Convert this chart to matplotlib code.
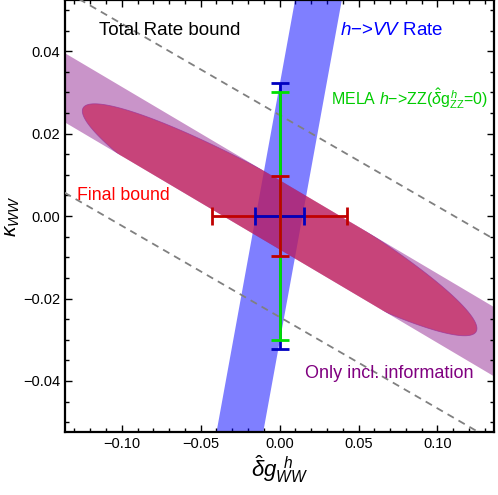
import numpy as np
import matplotlib
matplotlib.use("Agg")
import matplotlib.pyplot as plt
from matplotlib.ticker import MultipleLocator

plt.rcParams['font.family'] = ['Liberation Sans', 'DejaVu Sans']
plt.rcParams['mathtext.fontset'] = 'custom'
plt.rcParams['mathtext.rm'] = 'Liberation Sans'
plt.rcParams['mathtext.it'] = 'Liberation Sans:italic'

# axis ranges
x_lim = (-0.136, 0.136)
y_lim = (-0.0523, 0.0523)

# purple band (only inclusive information): y = slope*x + offset +/- half
incl_slope = -0.2266
incl_offset = 0.0003
incl_half = 0.0084

# total rate bound dashed lines: y = slope*x +/- offset
rate_slope = -0.2215
rate_offset = 0.0245

# h->VV rate band: x = slope*y + offset +/- half
vv_slope = 0.475
vv_offset = -0.0003
vv_half = 0.0148

# final bound ellipse: tips and half-height at x=0 (clipped to purple band)
ell_center = (0.0, -0.0009)
ell_tip_x = 0.125
ell_tip_slope = -0.211
ell_half_h = 0.0098

# error bars at the origin
red_xerr, red_yerr = 0.0427, 0.0097
blue_xerr, blue_yerr = 0.0156, 0.0323
green_yerr = 0.030

fig = plt.figure(figsize=(4.98, 4.95), dpi=100)
ax = fig.add_axes([0.1305, 0.128, 0.862, 0.871])

# purple band
xb = np.array([-0.3, 0.3, 0.3, -0.3])
yb = incl_slope * xb + incl_offset + np.array([-1, -1, 1, 1]) * incl_half
band, = ax.fill(xb, yb, color=(0.5, 0.0, 0.5), alpha=0.42, lw=0, zorder=1)

# blue band
yv = np.array([-0.1, 0.1, 0.1, -0.1])
xv = vv_slope * yv + vv_offset + np.array([-1, -1, 1, 1]) * vv_half
ax.fill(xv, yv, color=(0.0, 0.0, 1.0), alpha=0.5, lw=0, zorder=2)

# final bound ellipse
t = np.linspace(0, 2 * np.pi, 400)
ex = ell_center[0] + ell_tip_x * np.cos(t)
ey = ell_center[1] + ell_tip_slope * ell_tip_x * np.cos(t) + ell_half_h * np.sin(t)
ell, = ax.fill(ex, ey, color=(0.78, 0.15, 0.36), alpha=0.72, lw=0.6,
               ec=(0.6, 0.2, 0.6), zorder=3)
ell.set_clip_path(band)

# total rate bound
xl = np.array([-0.3, 0.3])
for s in (1, -1):
    ax.plot(xl, rate_slope * xl + s * rate_offset, color='#808080',
            lw=1.3, dashes=(4, 3), zorder=4)

# error bars
eb = dict(fmt='none', capsize=6.5, elinewidth=2, capthick=2)
ax.errorbar(0, 0, xerr=red_xerr, ecolor='#c00000', zorder=5, **eb)
ax.errorbar(0, 0, xerr=blue_xerr, ecolor='#0000c0', zorder=6, **eb)
ax.errorbar(0, 0, yerr=blue_yerr, ecolor='#0000c0', zorder=7, **eb)
ax.errorbar(0, 0, yerr=green_yerr, ecolor='#00e000', zorder=8, **eb)
ax.errorbar(0, 0, yerr=red_yerr, ecolor='#c00000', zorder=9, **eb)

# labels inside plot
ax.text(-0.0698, 0.0450, 'Total Rate bound', color='black', fontsize=13.5,
        ha='center', va='center', zorder=10)
ax.text(0.0382, 0.0450, '$h$−>$VV$ Rate', color='#0000ff', fontsize=13.5,
        ha='left', va='center', zorder=10)
ax.text(0.0325, 0.0285, r'MELA $h$−>ZZ($\hat{\delta}\mathrm{g}_{\mathrm{ZZ}}^{\,h}$=0)',
        color='#00cc00', fontsize=11.5, ha='left', va='center', zorder=10)
ax.text(-0.1285, 0.0050, 'Final bound', color='#ff0000', fontsize=12.8,
        ha='left', va='center', zorder=10)
ax.text(0.0162, -0.0381, 'Only incl. information', color='#800080',
        fontsize=13, ha='left', va='center', zorder=10)

ax.set_xlim(*x_lim)
ax.set_ylim(*y_lim)
ax.xaxis.set_major_locator(MultipleLocator(0.05))
ax.xaxis.set_minor_locator(MultipleLocator(0.01))
ax.yaxis.set_major_locator(MultipleLocator(0.02))
ax.yaxis.set_minor_locator(MultipleLocator(0.005))
ax.xaxis.set_major_formatter(lambda v, p: f'{v:.2f}'.replace('-', '−'))
ax.yaxis.set_major_formatter(lambda v, p: f'{v:.2f}'.replace('-', '−'))
ax.tick_params(which='both', direction='in', top=True, right=True, labelsize=10.5)
ax.tick_params(which='major', length=5, width=1)
ax.tick_params(which='minor', length=3, width=1)
for sp in ax.spines.values():
    sp.set_linewidth(1.6)

ax.set_xlabel(r'$\hat{\delta}g_{WW}^{\;\;h}$', fontsize=16, labelpad=2)
ax.set_ylabel(r'$\kappa_{WW}$', fontsize=15)
ax.yaxis.set_label_coords(-0.100, 0.5)

fig.savefig('out.png', dpi=100)
